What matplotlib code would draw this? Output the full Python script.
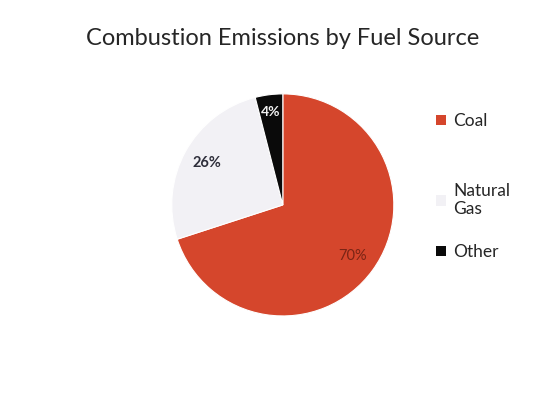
import matplotlib.pyplot as plt
from matplotlib.patches import Patch

plt.rcParams['font.family'] = ['Lato', 'DejaVu Sans']

fuels = ['Coal', 'Natural\nGas', 'Other']
shares = [70, 26, 4]
colours = ['#D5462C', '#F2F1F5', '#0A0A0A']
pct_colours = ['#7A2415', '#2E2E3A', '#F2F2F2']

fig = plt.figure(figsize=(5.47, 4.03), dpi=100)
ax = fig.add_axes([0.314, 0.216, 0.406, 0.551])

wedges, texts, autotexts = ax.pie(
    shares, colors=colours, startangle=90, counterclock=False,
    autopct='%d%%', pctdistance=0.78,
    wedgeprops=dict(edgecolor='white', linewidth=0.8))
ax.set_xlim(-1, 1)
ax.set_ylim(-1, 1)

for t, c in zip(autotexts, pct_colours):
    t.set_color(c)
    t.set_fontsize(10.5)
autotexts[1].set_fontweight('bold')
autotexts[2].set_fontweight('bold')
autotexts[2].set_fontsize(10)
# the thin slice label sits a bit further out
x, y = autotexts[2].get_position()
autotexts[2].set_position((x * 1.08, y * 1.08))

fig.text(0.517, 0.905, 'Combustion Emissions by Fuel Source',
         ha='center', va='center', fontsize=17, color='#262626')

def entry(i):
    return [Patch(facecolor=colours[i], edgecolor='none')], [fuels[i]]

kw = dict(frameon=False, fontsize=12.5, handlelength=0.55, handleheight=0.55,
          handletextpad=0.45, labelcolor='#262626', borderpad=0,
          borderaxespad=0)
for i, ypix in enumerate([121, 200, 252]):
    h, l = entry(i)
    fig.legend(h, l, loc='center left',
               bbox_to_anchor=(0.797, 1 - ypix / 403), **kw)

fig.savefig('out.png', dpi=100, facecolor='white')
